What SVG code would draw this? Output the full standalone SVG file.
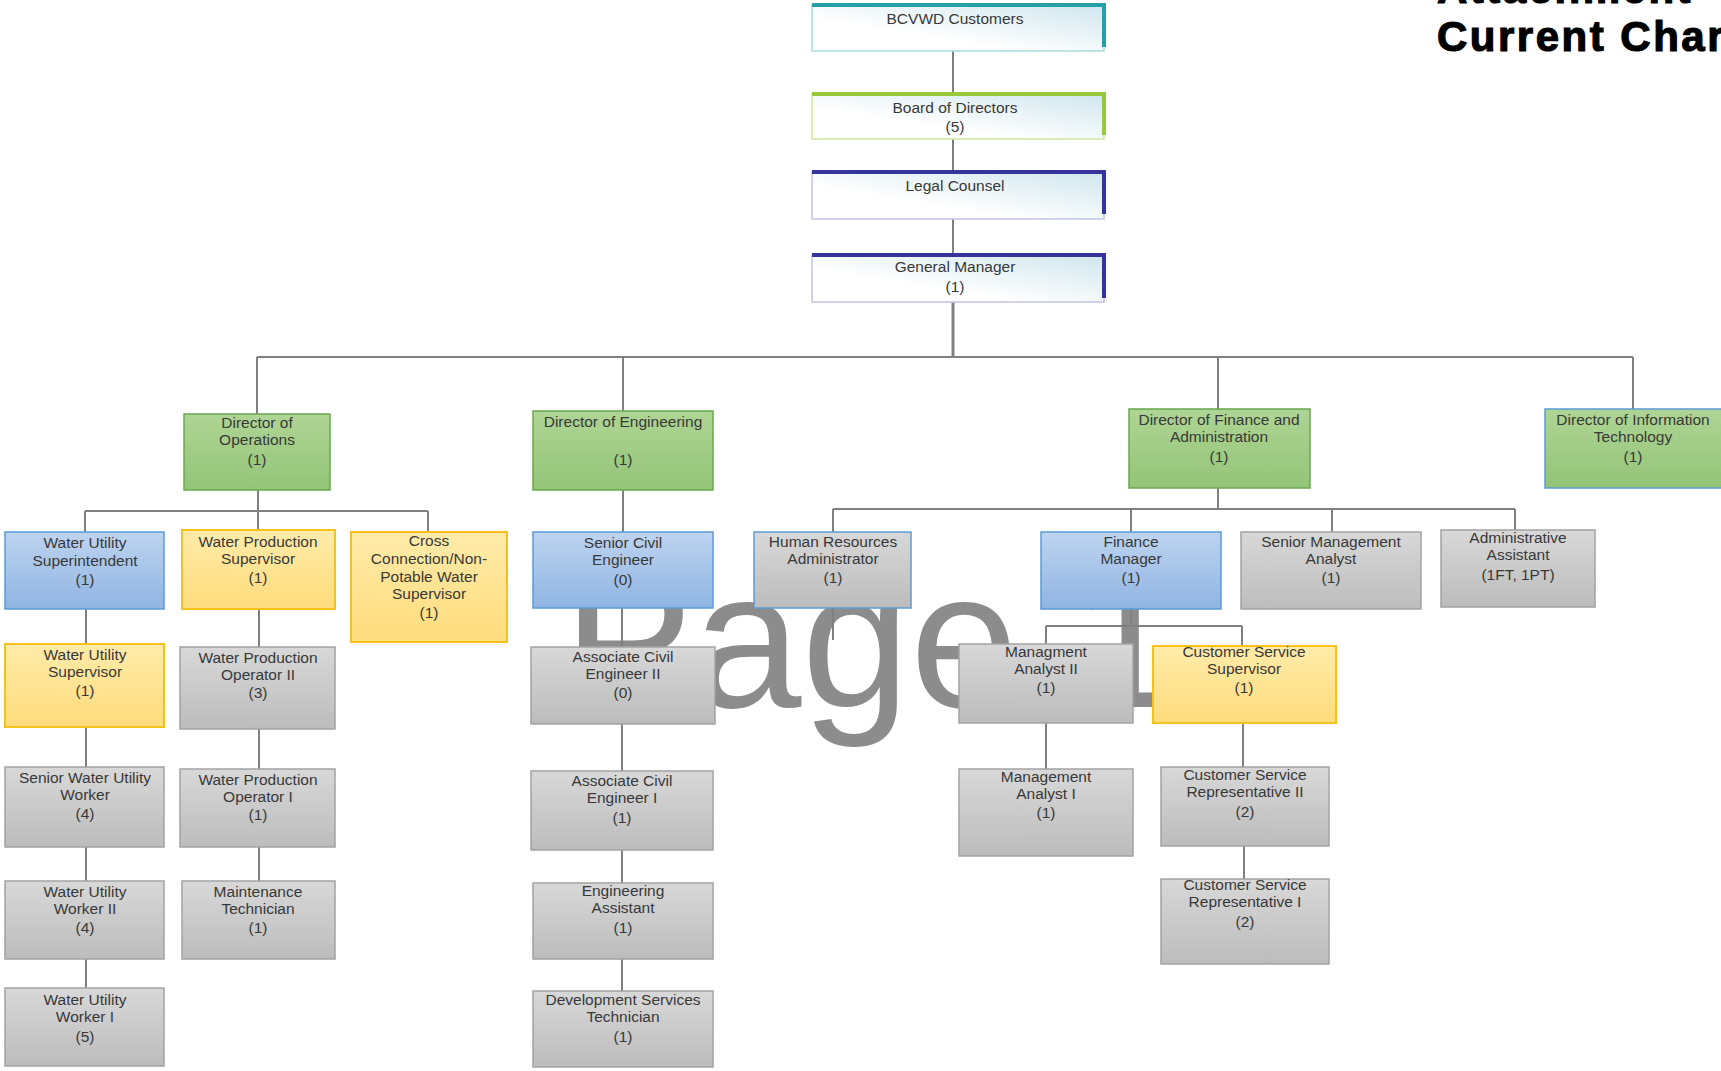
<svg xmlns="http://www.w3.org/2000/svg" width="1721" height="1071" viewBox="0 0 1721 1071">
<defs>
<linearGradient id="gGray" x1="0" y1="0" x2="0" y2="1"><stop offset="0" stop-color="#d8d8d8"/><stop offset="1" stop-color="#bcbcbc"/></linearGradient>
<linearGradient id="gBlue" x1="0" y1="0" x2="0" y2="1"><stop offset="0" stop-color="#bed4f0"/><stop offset="1" stop-color="#8fb4e3"/></linearGradient>
<linearGradient id="gYel" x1="0" y1="0" x2="0" y2="1"><stop offset="0" stop-color="#ffeba9"/><stop offset="1" stop-color="#ffdc7c"/></linearGradient>
<linearGradient id="gGrn" x1="0" y1="0" x2="0" y2="1"><stop offset="0" stop-color="#afd594"/><stop offset="1" stop-color="#92c477"/></linearGradient>
<linearGradient id="gTop" x1="0" y1="1" x2="1" y2="0"><stop offset="0.35" stop-color="#ffffff"/><stop offset="1" stop-color="#cfe6ee"/></linearGradient>
<style>
.gray{fill:url(#gGray);stroke:#a3a3a3;stroke-width:1.5}
.blue{fill:url(#gBlue);stroke:#5b9bd5;stroke-width:1.5}
.yel{fill:url(#gYel);stroke:#f5c21b;stroke-width:2}
.grn{fill:url(#gGrn);stroke:#6aa84f;stroke-width:1.5}
.grnb{fill:url(#gGrn);stroke:#5b9bd5;stroke-width:1.5}
.hrb{fill:url(#gGray);stroke:#5b9bd5;stroke-width:1.5}
.top{fill:url(#gTop);stroke-width:1.5}
.t{font-family:"Liberation Sans",Arial,sans-serif;font-size:15.5px;fill:#383838;text-anchor:middle}
.c{fill:none;stroke:#808080;stroke-width:2}
.wm{font-family:"Liberation Sans",Arial,sans-serif;font-size:195px;fill:#8c8c8c}
.title{font-family:"Liberation Sans",Arial,sans-serif;font-size:42px;font-weight:bold;letter-spacing:2.5px;fill:#000;stroke:#000;stroke-width:1.2}
</style>
</defs>
<rect width="1721" height="1071" fill="#ffffff"/>
<text class="wm" x="563" y="707">Page 1</text>
<text class="title" x="1437" y="3">Attachment</text>
<text class="title" x="1437" y="51">Current Chart</text>

<g id="connectors">
<path class="c" d="M953 51V94M953 139V172M953 219V255"/>
<path class="c" style="stroke-width:3" d="M953 302V357"/>
<path class="c" d="M257 357H1633M257 357V414M623 357V411M1218 357V409M1633 357V409"/>
<path class="c" d="M258 490V530M85 511H428M85 511V532M428 511V532"/>
<path class="c" d="M86 609V644M86 727V767M86 847V881M86 959V988"/>
<path class="c" d="M259 609V647M259 729V769M259 847V881"/>
<path class="c" d="M623 490V532M622 608V647M622 724V771M622 850V883M622 959V991"/>
<path class="c" d="M1218 488V509M833 509H1515M833 509V532M1131 509V532M1332 509V532M1515 509V530M833 608V640"/>
<path class="c" d="M1131 609V626M1046 626H1242M1046 626V644M1242 626V646M1046 723V769M1243 723V767M1244 846V879"/>
</g>

<g id="n-customers">
<rect class="top" x="812" y="5" width="292" height="46" stroke="#a8dcdc"/>
<path d="M812 5H1104V47" fill="none" stroke="#26a0a6" stroke-width="4"/>
<text class="t" x="955" y="24">BCVWD Customers</text>
</g>
<g id="n-board">
<rect class="top" x="812" y="94" width="292" height="45" stroke="#cfe79a"/>
<path d="M812 94H1104V135" fill="none" stroke="#98c93c" stroke-width="4"/>
<text class="t" x="955" y="113">Board of Directors<tspan x="955" y="132">(5)</tspan></text>
</g>
<g id="n-legal">
<rect class="top" x="812" y="172" width="292" height="47" stroke="#c3c3e6"/>
<path d="M812 172H1104V214" fill="none" stroke="#34349a" stroke-width="4"/>
<text class="t" x="955" y="191">Legal Counsel</text>
</g>
<g id="n-gm">
<rect class="top" x="812" y="255" width="292" height="47" stroke="#c3c3e6"/>
<path d="M812 255H1104V298" fill="none" stroke="#34349a" stroke-width="4"/>
<text class="t" x="955" y="272">General Manager<tspan x="955" y="292">(1)</tspan></text>
</g>

<g id="n-dir-ops">
<rect class="grn" x="184" y="414" width="146" height="76"/>
<text class="t" x="257" y="428">Director of<tspan x="257" y="445">Operations</tspan><tspan x="257" y="465">(1)</tspan></text>
</g>
<g id="n-dir-eng">
<rect class="grn" x="533" y="411" width="180" height="79"/>
<text class="t" x="623" y="427">Director of Engineering<tspan x="623" y="465">(1)</tspan></text>
</g>
<g id="n-dir-fin">
<rect class="grn" x="1129" y="409" width="181" height="79"/>
<text class="t" x="1219" y="425">Director of Finance and<tspan x="1219" y="442">Administration</tspan><tspan x="1219" y="462">(1)</tspan></text>
</g>
<g id="n-dir-it">
<rect class="grnb" x="1545" y="409" width="178" height="79"/>
<text class="t" x="1633" y="425">Director of Information<tspan x="1633" y="442">Technology</tspan><tspan x="1633" y="462">(1)</tspan></text>
</g>

<g id="n-wus">
<rect class="blue" x="5" y="532" width="159" height="77"/>
<text class="t" x="85" y="548">Water Utility<tspan x="85" y="566">Superintendent</tspan><tspan x="85" y="585">(1)</tspan></text>
</g>
<g id="n-wps">
<rect class="yel" x="182" y="530" width="153" height="79"/>
<text class="t" x="258" y="547">Water Production<tspan x="258" y="564">Supervisor</tspan><tspan x="258" y="583">(1)</tspan></text>
</g>
<g id="n-ccs">
<rect class="yel" x="351" y="532" width="156" height="110"/>
<text class="t" x="429" y="546">Cross<tspan x="429" y="564">Connection/Non-</tspan><tspan x="429" y="582">Potable Water</tspan><tspan x="429" y="599">Supervisor</tspan><tspan x="429" y="618">(1)</tspan></text>
</g>
<g id="n-wusup">
<rect class="yel" x="5" y="644" width="159" height="83"/>
<text class="t" x="85" y="660">Water Utility<tspan x="85" y="677">Supervisor</tspan><tspan x="85" y="696">(1)</tspan></text>
</g>
<g id="n-swuw">
<rect class="gray" x="5" y="767" width="159" height="80"/>
<text class="t" x="85" y="783">Senior Water Utility<tspan x="85" y="800">Worker</tspan><tspan x="85" y="819">(4)</tspan></text>
</g>
<g id="n-wuw2">
<rect class="gray" x="5" y="881" width="159" height="78"/>
<text class="t" x="85" y="897">Water Utility<tspan x="85" y="914">Worker II</tspan><tspan x="85" y="933">(4)</tspan></text>
</g>
<g id="n-wuw1">
<rect class="gray" x="5" y="988" width="159" height="78"/>
<text class="t" x="85" y="1005">Water Utility<tspan x="85" y="1022">Worker I</tspan><tspan x="85" y="1042">(5)</tspan></text>
</g>
<g id="n-wpo2">
<rect class="gray" x="180" y="647" width="155" height="82"/>
<text class="t" x="258" y="663">Water Production<tspan x="258" y="680">Operator II</tspan><tspan x="258" y="698">(3)</tspan></text>
</g>
<g id="n-wpo1">
<rect class="gray" x="180" y="769" width="155" height="78"/>
<text class="t" x="258" y="785">Water Production<tspan x="258" y="802">Operator I</tspan><tspan x="258" y="820">(1)</tspan></text>
</g>
<g id="n-mt">
<rect class="gray" x="182" y="881" width="153" height="78"/>
<text class="t" x="258" y="897">Maintenance<tspan x="258" y="914">Technician</tspan><tspan x="258" y="933">(1)</tspan></text>
</g>

<g id="n-sce">
<rect class="blue" x="533" y="532" width="180" height="76"/>
<text class="t" x="623" y="548">Senior Civil<tspan x="623" y="565">Engineer</tspan><tspan x="623" y="585">(0)</tspan></text>
</g>
<g id="n-ace2">
<rect class="gray" x="531" y="647" width="184" height="77"/>
<text class="t" x="623" y="662">Associate Civil<tspan x="623" y="679">Engineer II</tspan><tspan x="623" y="698">(0)</tspan></text>
</g>
<g id="n-ace1">
<rect class="gray" x="531" y="771" width="182" height="79"/>
<text class="t" x="622" y="786">Associate Civil<tspan x="622" y="803">Engineer I</tspan><tspan x="622" y="823">(1)</tspan></text>
</g>
<g id="n-ea">
<rect class="gray" x="533" y="883" width="180" height="76"/>
<text class="t" x="623" y="896">Engineering<tspan x="623" y="913">Assistant</tspan><tspan x="623" y="933">(1)</tspan></text>
</g>
<g id="n-dst">
<rect class="gray" x="533" y="991" width="180" height="76"/>
<text class="t" x="623" y="1005">Development Services<tspan x="623" y="1022">Technician</tspan><tspan x="623" y="1042">(1)</tspan></text>
</g>

<g id="n-hr">
<rect class="hrb" x="754" y="532" width="157" height="76"/>
<text class="t" x="833" y="547">Human Resources<tspan x="833" y="564">Administrator</tspan><tspan x="833" y="583">(1)</tspan></text>
</g>
<g id="n-fm">
<rect class="blue" x="1041" y="532" width="180" height="77"/>
<text class="t" x="1131" y="547">Finance<tspan x="1131" y="564">Manager</tspan><tspan x="1131" y="583">(1)</tspan></text>
</g>
<g id="n-sma">
<rect class="gray" x="1241" y="532" width="180" height="77"/>
<text class="t" x="1331" y="547">Senior Management<tspan x="1331" y="564">Analyst</tspan><tspan x="1331" y="583">(1)</tspan></text>
</g>
<g id="n-aa">
<rect class="gray" x="1441" y="530" width="154" height="77"/>
<text class="t" x="1518" y="543">Administrative<tspan x="1518" y="560">Assistant</tspan><tspan x="1518" y="580">(1FT, 1PT)</tspan></text>
</g>
<g id="n-ma2">
<rect class="gray" x="959" y="644" width="174" height="79"/>
<text class="t" x="1046" y="657">Managment<tspan x="1046" y="674">Analyst II</tspan><tspan x="1046" y="693">(1)</tspan></text>
</g>
<g id="n-css">
<rect class="yel" x="1153" y="646" width="183" height="77"/>
<text class="t" x="1244" y="657">Customer Service<tspan x="1244" y="674">Supervisor</tspan><tspan x="1244" y="693">(1)</tspan></text>
</g>
<g id="n-ma1">
<rect class="gray" x="959" y="769" width="174" height="87"/>
<text class="t" x="1046" y="782">Management<tspan x="1046" y="799">Analyst I</tspan><tspan x="1046" y="818">(1)</tspan></text>
</g>
<g id="n-csr2">
<rect class="gray" x="1161" y="767" width="168" height="79"/>
<text class="t" x="1245" y="780">Customer Service<tspan x="1245" y="797">Representative II</tspan><tspan x="1245" y="817">(2)</tspan></text>
</g>
<g id="n-csr1">
<rect class="gray" x="1161" y="879" width="168" height="85"/>
<text class="t" x="1245" y="890">Customer Service<tspan x="1245" y="907">Representative I</tspan><tspan x="1245" y="927">(2)</tspan></text>
</g>
</svg>
